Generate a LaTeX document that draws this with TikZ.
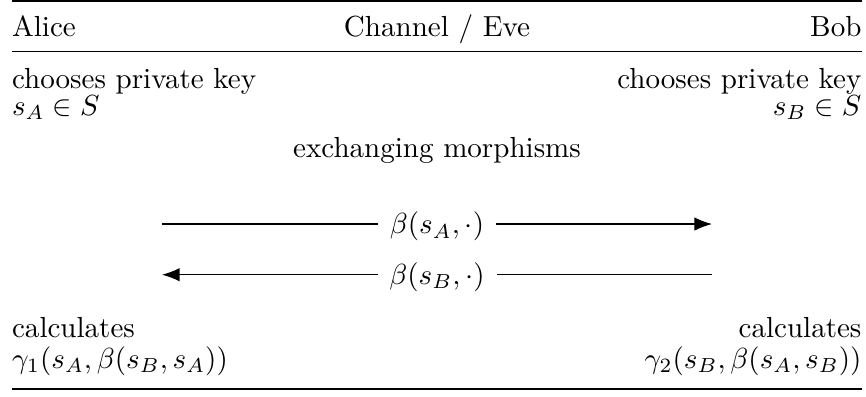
\documentclass[tikz,border=0pt]{standalone}
\usetikzlibrary{arrows.meta}
\begin{document}
\begin{tikzpicture}[x=0.3597pt,y=-0.3597pt,
  heavyrule/.style={line width=0.8pt},
  lightrule/.style={line width=0.5pt},
  txt/.style={inner sep=0pt,scale=1.045,transform shape},
  msg/.style={line width=0.4pt,-{Latex[length=6.3pt,width=4.8pt]}},
  lbl/.style={fill=white,inner ysep=1pt,inner xsep=4.1pt,yshift=-0.9pt,scale=1.045,transform shape}]
\useasboundingbox (0,0) rectangle (866,396);
% booktabs-like rules
\coordinate (tl) at (11.5,1.3);   \coordinate (tr) at (862,1.3);
\coordinate (ml) at (11.5,51.7);  \coordinate (mr) at (862,51.7);
\coordinate (bl) at (11.5,389);   \coordinate (br) at (862,389);
\draw[heavyrule] (tl) -- (tr);
\draw[lightrule] (ml) -- (mr);
\draw[heavyrule] (bl) -- (br);
% header
\node[txt,anchor=base west] (alice) at (11.5,36) {Alice};
\node[txt,anchor=base] (eve) at (437,36) {Channel / Eve};
\node[txt,anchor=base east] (bob) at (862,36) {Bob};
% key choice
\node[txt,anchor=base west] (ka) at (11.5,88) {chooses private key};
\node[txt,anchor=base west] (sa) at (11.5,115) {$s_A \in S$};
\node[txt,anchor=base east] (kb) at (862,88) {chooses private key};
\node[txt,anchor=base east] (sb) at (862,115) {$s_B \in S$};
% exchange
\node[txt,anchor=base] (ex) at (437,157) {exchanging morphisms};
\coordinate (a1s) at (162,224); \coordinate (a1e) at (712,224);
\coordinate (a2s) at (712,274.7); \coordinate (a2e) at (162,274.7);
\draw[msg] (a1s) -- node[lbl] (m1) {$\beta(s_A,\cdot)$} (a1e);
\draw[msg] (a2s) -- node[lbl] (m2) {$\beta(s_B,\cdot)$} (a2e);
% results
\node[txt,anchor=base west] (ca) at (11.5,337) {calculates};
\node[txt,anchor=base west] (ga) at (11.5,368) {$\gamma_1(s_A,\beta(s_B,s_A))$};
\node[txt,anchor=base east] (cb) at (862,337) {calculates};
\node[txt,anchor=base east] (gb) at (862,368) {$\gamma_2(s_B,\beta(s_A,s_B))$};
\end{tikzpicture}
\end{document}
